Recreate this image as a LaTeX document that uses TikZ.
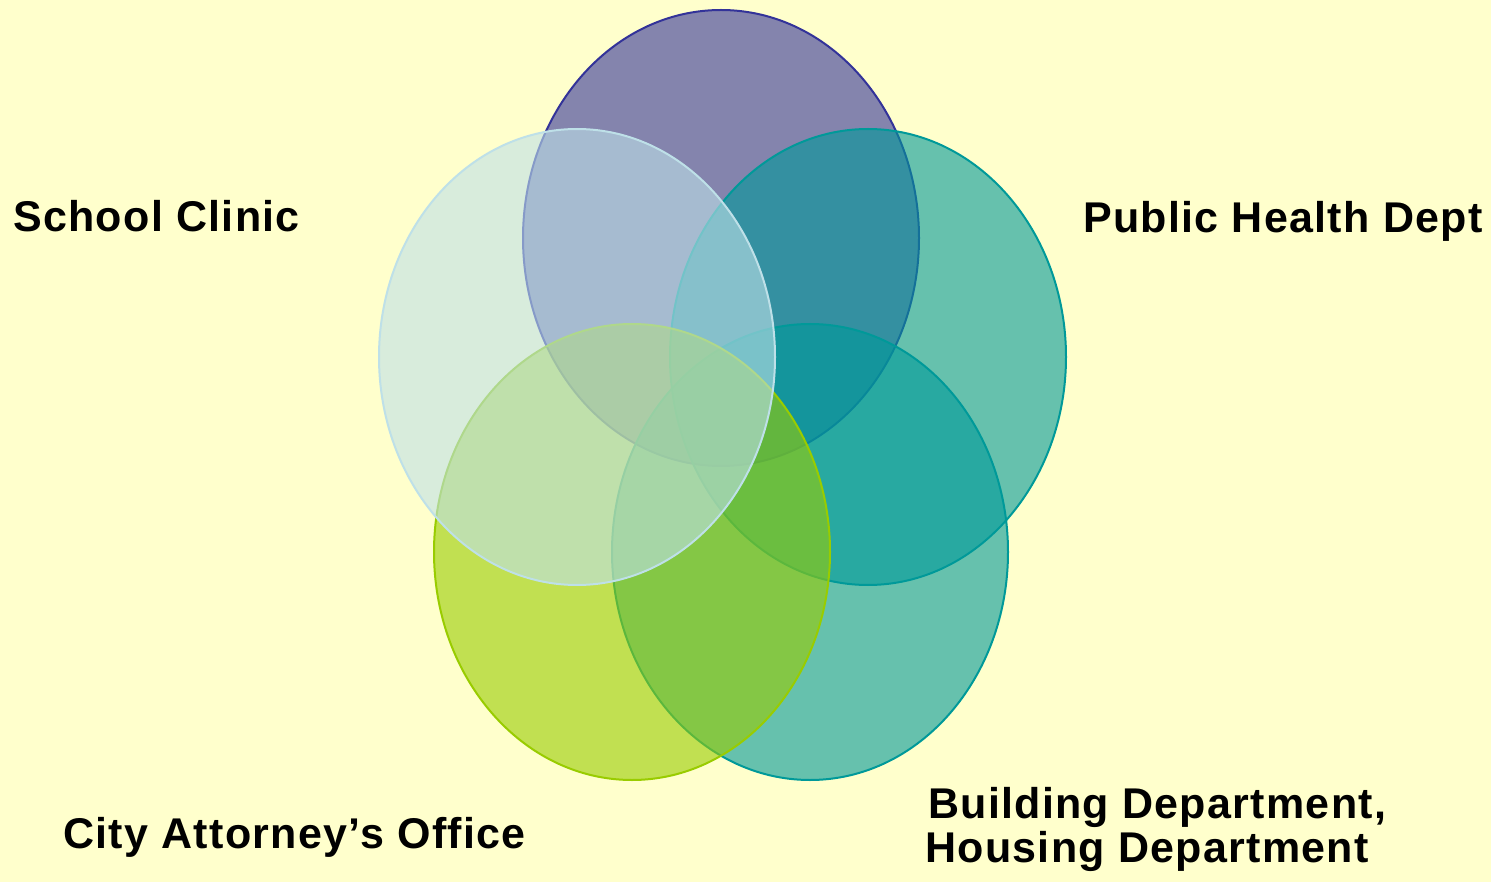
\documentclass[tikz,border=0pt]{standalone}
\usepackage{fontspec}
\setmainfont{Liberation Sans}
\newfontfamily\labelfont[LetterSpace=3]{Liberation Sans}
\usetikzlibrary{shapes.geometric}
\definecolor{bgyellow}{RGB}{255,255,204}
\definecolor{navyset}{RGB}{51,51,153}
\definecolor{skyset}{RGB}{190,224,232}
\definecolor{tealset}{RGB}{0,153,153}
\definecolor{limeset}{RGB}{153,204,0}
\tikzset{
  setellipse/.style={ellipse, draw=#1, fill=#1, fill opacity=0.6, draw opacity=1,
    line width=2pt, minimum width=396pt, minimum height=456pt, inner sep=0pt, outer sep=0pt},
  setlabel/.style={anchor=base west, inner sep=0pt, align=left,
    font=\labelfont\bfseries\fontsize{43}{44}\selectfont}
}
\begin{document}
\begin{tikzpicture}[x=1pt,y=-1pt]
  % page background
  \fill[bgyellow] (0,0) rectangle (1491,882);
  \useasboundingbox (0,0) rectangle (1491,882);

  % the five overlapping sets
  \node[setellipse=navyset] (navy) at (721,238) {};
  \node[setellipse=tealset] (health) at (868,357) {};
  \node[setellipse=tealset] (building) at (810,552) {};
  \node[setellipse=limeset] (attorney) at (632,552) {};
  \node[setellipse=skyset] (clinic) at (577,357) {};

  % labels
  \node[setlabel] (clinicLabel) at (13,232) {School Clinic};
  \node[setlabel] (healthLabel) at (1083,233) {Public Health Dept};
  \node[setlabel] (attorneyLabel) at (63,848) {City Attorney’s Office};
  \node[setlabel] (buildingLabel) at (928,818) {Building Department,};
  \node[setlabel] (housingLabel) at (925,862) {Housing Department};
\end{tikzpicture}
\end{document}
